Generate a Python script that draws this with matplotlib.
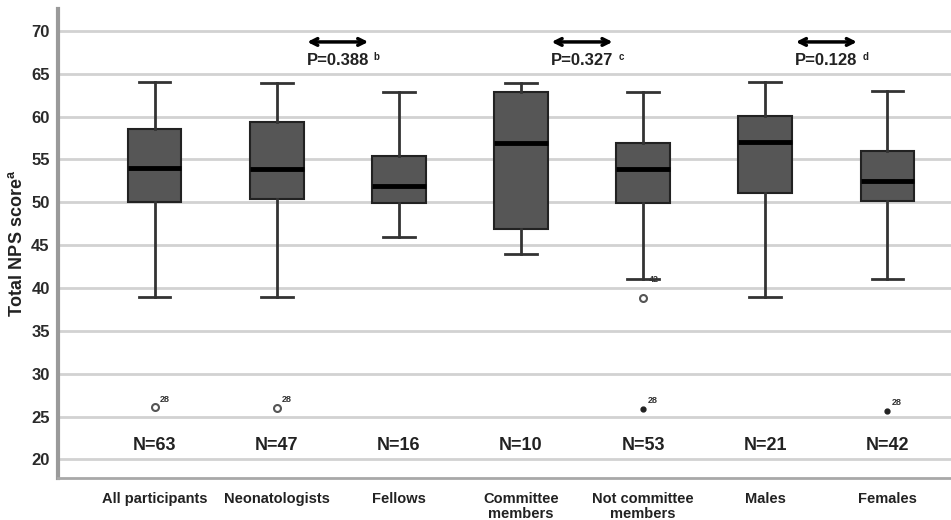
import matplotlib
matplotlib.use("Agg")
import matplotlib.pyplot as plt
import numpy as np

plt.rcParams['font.family'] = ['Liberation Sans', 'DejaVu Sans']

categories = ["All participants", "Neonatologists", "Fellows", "Committee\nmembers",
              "Not committee\nmembers", "Males", "Females"]
whisker_low = [39, 39, 46, 44, 41, 39, 41]
q1 = [50, 50.4, 49.9, 46.9, 49.9, 51.1, 50.1]
medians = [54, 53.9, 51.9, 56.9, 53.9, 57.0, 52.5]
q3 = [58.5, 59.4, 55.4, 62.9, 56.9, 60.1, 56.0]
whisker_high = [64, 63.9, 62.9, 63.9, 62.9, 64.0, 63.0]
n_labels = ["N=63", "N=47", "N=16", "N=10", "N=53", "N=21", "N=42"]

# outliers: (category index, value, case label, filled)
outlier_cat = [0, 1, 4, 4, 6]
outlier_val = [26.1, 26.0, 38.8, 25.9, 25.7]
outlier_lab = ["28", "28", "42", "28", "28"]
outlier_filled = [False, False, False, True, True]

pairs = [(1, 2), (3, 4), (5, 6)]
p_texts = ["P=0.388", "P=0.327", "P=0.128"]
p_sups = ["b", "c", "d"]

fig = plt.figure(figsize=(9.51, 5.2), dpi=100)
ax = fig.add_axes([0.061, 0.081, 0.939, 0.901])

pos = np.arange(len(categories))
stats = []
for i in range(len(categories)):
    stats.append(dict(med=medians[i], q1=q1[i], q3=q3[i],
                      whislo=whisker_low[i], whishi=whisker_high[i], fliers=[]))

ax.bxp(stats, positions=pos, widths=0.44, patch_artist=True, showfliers=False,
       boxprops=dict(facecolor="#565656", edgecolor="#222222", linewidth=1.5),
       medianprops=dict(color="black", linewidth=3.5),
       whiskerprops=dict(color="#333333", linewidth=2),
       capprops=dict(color="#333333", linewidth=2),
       capwidths=0.26, zorder=3)

for c, v, lab, filled in zip(outlier_cat, outlier_val, outlier_lab, outlier_filled):
    if filled:
        ax.plot(c, v, 'o', ms=3.5, color="#222222", zorder=4)
        ax.annotate(lab, (c, v), xytext=(3, 4), textcoords='offset points',
                    fontsize=6.5, fontweight='bold', color="#333333")
    else:
        ax.plot(c, v, 'o', ms=5, mfc='white', mec="#555555", mew=1.5, zorder=4)
        dy = 12 if lab == "42" else 4
        ax.annotate(lab, (c, v), xytext=(4, dy), textcoords='offset points',
                    fontsize=6.5, fontweight='bold', color="#333333", zorder=5)

for i, t in enumerate(n_labels):
    ax.text(pos[i], 21.65, t, ha='center', va='center', fontsize=13,
            fontweight='bold', color="#222222")

for (a, b), pt, sp in zip(pairs, p_texts, p_sups):
    mid = (pos[a] + pos[b]) / 2
    ax.annotate("", xy=(mid - 0.25, 68.7), xytext=(mid + 0.25, 68.7),
                arrowprops=dict(arrowstyle="<->", color="black", lw=2.5,
                                mutation_scale=12, shrinkA=0, shrinkB=0))
    ax.text(mid, 66.5, pt, ha='center', va='center', fontsize=12,
            fontweight='bold', color="#222222")
    ax.annotate(sp, (mid, 66.5), xytext=(26, 3), textcoords='offset points',
                ha='left', va='center', fontsize=7, fontweight='bold', color="#222222")

ax.set_xlim(-0.79, 6.52)
ax.set_ylim(17.85, 72.5)
ax.set_yticks(np.arange(20, 71, 5))
ax.yaxis.grid(True, color="#d2d2d2", linewidth=2)
ax.set_axisbelow(True)
ax.tick_params(axis='y', length=0, labelsize=12, colors="#2a2a2a", pad=6)
for lab in ax.get_yticklabels():
    lab.set_fontweight('bold')
ax.set_xticks(pos)
ax.set_xticklabels(categories, fontsize=10.5, fontweight='bold', color="#222222",
                   linespacing=1.1)
ax.tick_params(axis='x', length=0, pad=10)

ax.spines['top'].set_visible(False)
ax.spines['right'].set_visible(False)
ax.spines['left'].set_color("#9a9a9a")
ax.spines['left'].set_linewidth(3)
ax.spines['bottom'].set_color("#a8a8a8")
ax.spines['bottom'].set_linewidth(2)

ax.set_ylabel("Total NPS score$^\\mathregular{a}$", fontsize=13, fontweight='bold',
              color="#222222", labelpad=4)

fig.savefig("out.png", dpi=100)
